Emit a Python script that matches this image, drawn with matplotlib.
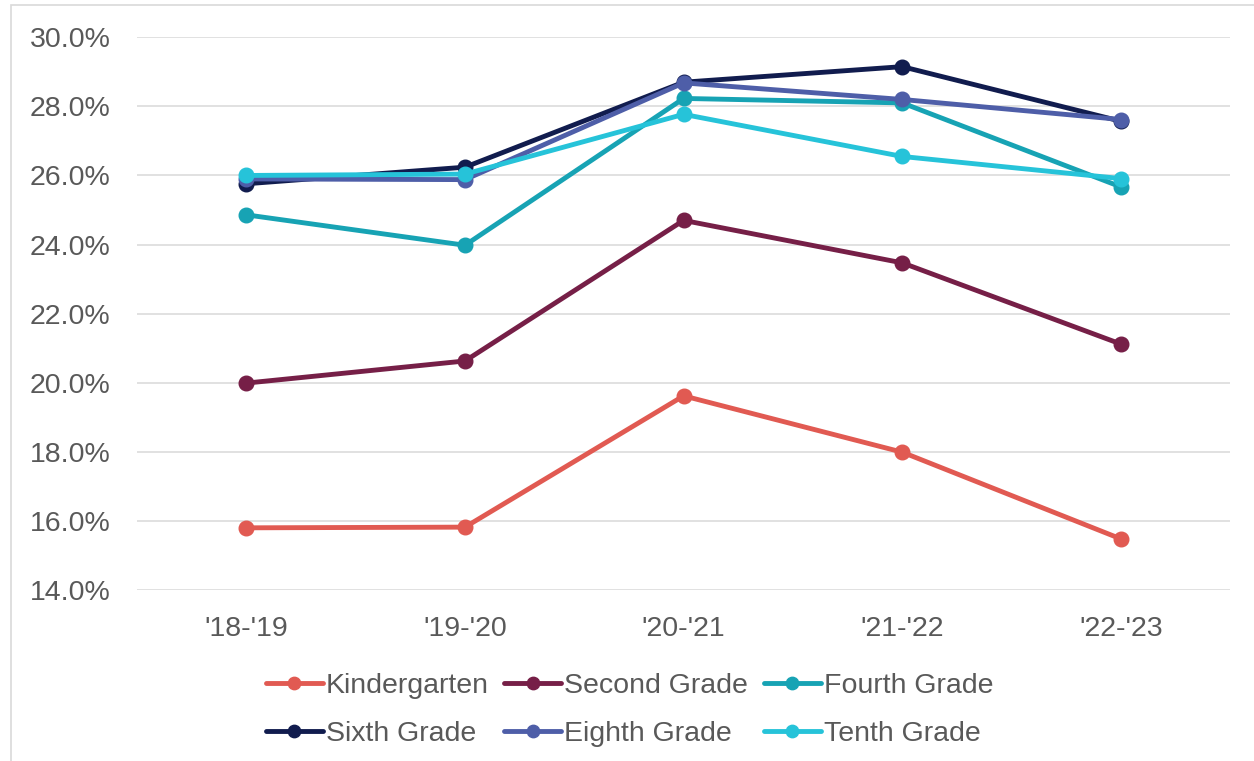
import matplotlib.pyplot as plt
from matplotlib.patches import Rectangle
from matplotlib.ticker import FuncFormatter

plt.rcParams['font.family'] = ['Liberation Sans', 'DejaVu Sans']

years = ["'18-'19", "'19-'20", "'20-'21", "'21-'22", "'22-'23"]

kindergarten = [15.80, 15.82, 19.62, 17.99, 15.48]
second_grade = [19.99, 20.63, 24.70, 23.47, 21.12]
fourth_grade = [24.86, 23.98, 28.23, 28.10, 25.67]
sixth_grade = [25.76, 26.24, 28.70, 29.15, 27.57]
eighth_grade = [25.90, 25.88, 28.68, 28.20, 27.62]
tenth_grade = [26.00, 26.04, 27.77, 26.55, 25.91]

series = [
    ('Kindergarten', kindergarten, '#E15A52'),
    ('Second Grade', second_grade, '#761F47'),
    ('Fourth Grade', fourth_grade, '#17A3B4'),
    ('Sixth Grade', sixth_grade, '#111C4E'),
    ('Eighth Grade', eighth_grade, '#4E5EA8'),
    ('Tenth Grade', tenth_grade, '#26C3D9'),
]

fig = plt.figure(figsize=(12.54, 7.61), dpi=100)
ax = fig.add_axes([0.1093, 0.2247, 0.8717, 0.7263])

x = range(len(years))
handles = {}
for name, vals, color in series:
    h, = ax.plot(x, vals, color=color, lw=3.5, marker='o', markersize=10.5,
                 label=name, solid_capstyle='round')
    handles[name] = h

ax.set_xlim(-0.5, len(years) - 0.5)
ax.set_ylim(14, 30)
ax.set_yticks([14, 16, 18, 20, 22, 24, 26, 28, 30])
ax.yaxis.set_major_formatter(FuncFormatter(lambda v, p: f'{v:.1f}%'))
ax.set_xticks(list(x))
ax.set_xticklabels(years)
ax.grid(axis='y', color='#D9D9D9', lw=1.1)
ax.set_axisbelow(True)
for s in ax.spines.values():
    s.set_visible(False)
ax.tick_params(axis='both', length=0, labelsize=20.5, colors='#595959')
ax.tick_params(axis='y', pad=19)
ax.tick_params(axis='x', pad=18.5)

order = ['Kindergarten', 'Sixth Grade', 'Second Grade', 'Eighth Grade',
         'Fourth Grade', 'Tenth Grade']
leg = fig.legend([handles[n] for n in order], order, ncol=3, frameon=False,
                 loc='center', bbox_to_anchor=(0.502, 0.067), fontsize=20.5,
                 handlelength=2.0, handletextpad=0.1, columnspacing=0.55,
                 labelspacing=0.78, markerscale=0.85)
for t in leg.get_texts():
    t.set_color('#595959')

fig.patches.append(Rectangle((11 / 1254, -0.05), 1.2, 1.05 - 5 / 761,
                             transform=fig.transFigure, fill=False,
                             edgecolor='#D9D9D9', lw=1.2))

plt.savefig('out.png', dpi=100)
